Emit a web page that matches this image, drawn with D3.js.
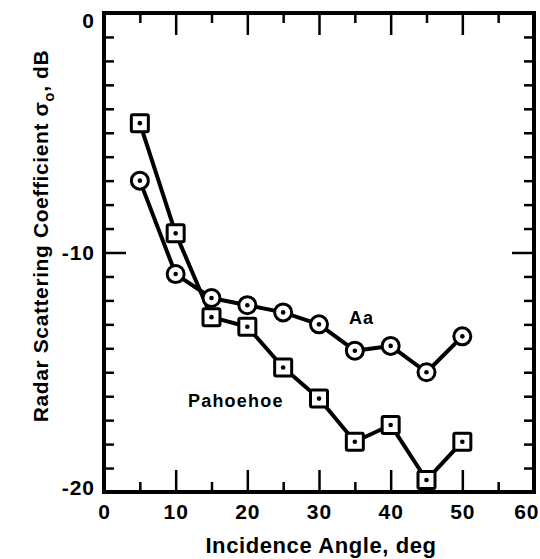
<!DOCTYPE html>
<html>
<head>
<meta charset="utf-8">
<script src="https://cdn.jsdelivr.net/npm/d3@7"></script>
<style>
  body { margin: 0; background: #fff; }
  svg text { font-family: Arial, "Liberation Sans", Helvetica, sans-serif; font-weight: bold; fill: #000; }
</style>
</head>
<body>
<div id="chart"></div>
<script>
// incidence angle, deg
const angles = [5, 10, 15, 20, 25, 30, 35, 40, 45, 50];
// radar scattering coefficient, dB
const aa = [-7.0, -10.9, -11.9, -12.2, -12.5, -13.0, -14.1, -13.9, -15.0, -13.5];
const pahoehoe = [-4.6, -9.2, -12.7, -13.1, -14.8, -16.1, -17.9, -17.2, -19.5, -17.9];
const xticks = [0, 10, 20, 30, 40, 50, 60];
const xminor = [5, 15, 25, 35, 45, 55];
const yticks = [0, -10, -20];
const yminor = [-1,-2,-3,-4,-5,-6,-7,-8,-9,-11,-12,-13,-14,-15,-16,-17,-18,-19];

let w = 540;
let h = 559;
let x0 = 104, x1 = 534, y0 = 13, y1 = 492;

const svg = d3.select("#chart")
      .append("svg")
      .attr("width", w)
      .attr("height", h);

const x_scale = d3.scaleLinear().domain([0, 60]).range([x0, x1]);
const y_scale = d3.scaleLinear().domain([-20, 0]).range([y1, y0]);

function ticks_group(axis, tx, ty){
  const g = svg.append("g")
    .attr("transform", `translate(${tx}, ${ty})`)
    .call(axis);
  g.select(".domain").remove();
  g.selectAll("line").attr("stroke", "#000").attr("stroke-width", 2.5);
  return g;
}

// major and minor ticks, pointing inwards, on all four sides
ticks_group(d3.axisBottom(x_scale).tickValues(xticks).tickSize(-22).tickFormat(""), 0, y1);
ticks_group(d3.axisBottom(x_scale).tickValues(xminor).tickSize(-10).tickFormat(""), 0, y1);
ticks_group(d3.axisTop(x_scale).tickValues(xticks).tickSize(-22).tickFormat(""), 0, y0);
ticks_group(d3.axisTop(x_scale).tickValues(xminor).tickSize(-10).tickFormat(""), 0, y0);
ticks_group(d3.axisLeft(y_scale).tickValues(yticks).tickSize(-22).tickFormat(""), x0, 0);
ticks_group(d3.axisLeft(y_scale).tickValues(yminor).tickSize(-10).tickFormat(""), x0, 0);
ticks_group(d3.axisRight(y_scale).tickValues(yticks).tickSize(-22).tickFormat(""), x1, 0);
ticks_group(d3.axisRight(y_scale).tickValues(yminor).tickSize(-10).tickFormat(""), x1, 0);

// tick labels (plain hyphen for minus, as in the original)
const xl = ticks_group(d3.axisBottom(x_scale).tickValues(xticks).tickSize(0).tickPadding(12)
                       .tickFormat(d => String(d)), 0, y1);
xl.selectAll("text").attr("font-size", 21).attr("letter-spacing", 1)
  .attr("text-anchor", d => d === 60 ? "end" : "middle")
  .attr("x", d => d === 60 ? 539 - x_scale(60) : 0);

const yl = ticks_group(d3.axisLeft(y_scale).tickValues(yticks).tickSize(0).tickPadding(9)
                       .tickFormat(d => String(d)), x0, 0);
yl.selectAll("text").attr("font-size", 21).attr("letter-spacing", 1)
  .attr("dy", d => d === 0 ? "0.7em" : (d === -20 ? "0.1em" : "0.32em"));

// frame
svg.append("rect")
  .attr("x", x0).attr("y", y0)
  .attr("width", x1 - x0).attr("height", y1 - y0)
  .attr("fill", "none").attr("stroke", "#000").attr("stroke-width", 4);

const line = d3.line()
  .x((d, i) => x_scale(angles[i]))
  .y(d => y_scale(d));

[aa, pahoehoe].forEach(s => {
  svg.append("path")
    .datum(s)
    .attr("d", line)
    .attr("fill", "none")
    .attr("stroke", "#000")
    .attr("stroke-width", 4)
    .attr("stroke-linejoin", "round");
});

// Aa markers: circles with dot
svg.selectAll(".aa")
  .data(aa)
  .enter()
  .append("circle")
  .attr("class", "aa")
  .attr("cx", (d, i) => x_scale(angles[i]))
  .attr("cy", d => y_scale(d))
  .attr("r", 8.5)
  .attr("fill", "#fff")
  .attr("stroke", "#000")
  .attr("stroke-width", 3);

// Pahoehoe markers: squares with dot
svg.selectAll(".pa")
  .data(pahoehoe)
  .enter()
  .append("rect")
  .attr("class", "pa")
  .attr("x", (d, i) => x_scale(angles[i]) - 8.5)
  .attr("y", d => y_scale(d) - 8.5)
  .attr("width", 17)
  .attr("height", 17)
  .attr("rx", 1.5)
  .attr("fill", "#fff")
  .attr("stroke", "#000")
  .attr("stroke-width", 3);

svg.selectAll(".dot")
  .data(aa.concat(pahoehoe))
  .enter()
  .append("circle")
  .attr("class", "dot")
  .attr("cx", (d, i) => x_scale(angles[i % angles.length]))
  .attr("cy", d => y_scale(d))
  .attr("r", 2.3)
  .attr("fill", "#000");

// series labels
svg.append("text")
  .attr("x", 349).attr("y", 324)
  .attr("font-size", 18)
  .attr("letter-spacing", 1)
  .text("Aa");
svg.append("text")
  .attr("x", 188).attr("y", 407)
  .attr("font-size", 18)
  .attr("letter-spacing", 1.2)
  .text("Pahoehoe");

// axis titles
svg.append("text")
  .attr("x", 321)
  .attr("y", 553)
  .attr("text-anchor", "middle")
  .attr("font-size", 22)
  .attr("letter-spacing", 0.6)
  .text("Incidence Angle, deg");

const yt = svg.append("text")
  .attr("transform", "translate(48, 236) rotate(-90)")
  .attr("text-anchor", "middle")
  .attr("font-size", 21)
  .attr("letter-spacing", 0.6);
yt.append("tspan").text("Radar Scattering Coefficient σ");
yt.append("tspan").attr("font-size", 15).attr("dy", 6).text("o");
yt.append("tspan").attr("dy", -6).text(", dB");
</script>
</body>
</html>
